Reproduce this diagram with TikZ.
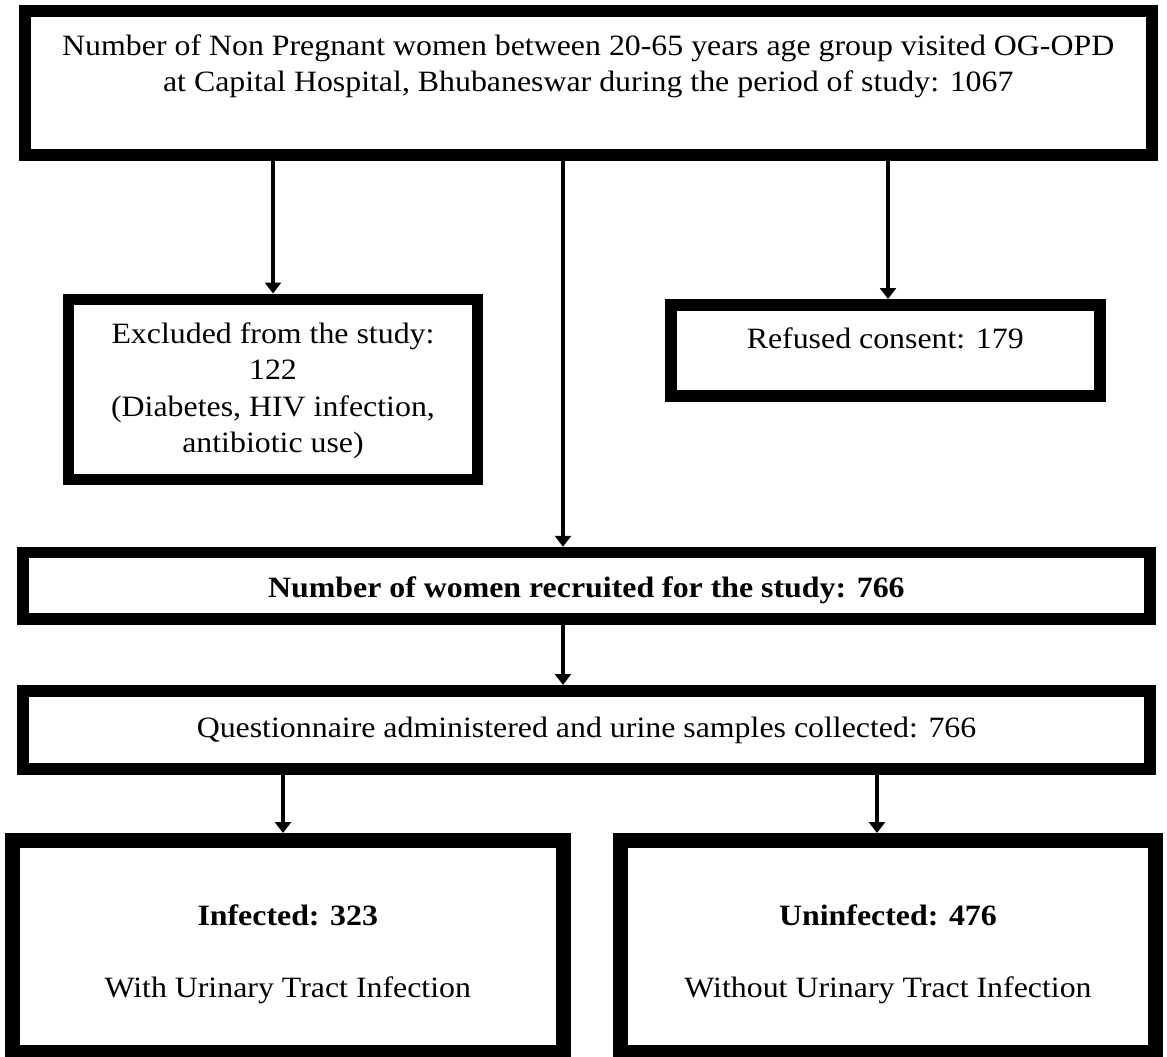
\documentclass[tikz,border=0pt]{standalone}
\usepackage{fontspec}
\setmainfont[FakeStretch=1.08]{Liberation Serif}
\usetikzlibrary{arrows.meta}
\tikzset{
  flowbox/.style={draw=black, fill=white, inner sep=0pt, outer sep=auto, rectangle},
  flowarrow/.style={draw=black, line width=3.5pt, -{Triangle[width=16pt,length=11pt]}}
}
% box content: width, height, top skip, text
\newcommand\boxcontent[4]{\parbox[c][#2][t]{#1}{\centering\vspace*{#3}\strut #4}}
\begin{document}
\begin{tikzpicture}[x=1pt,y=-1pt,font=\fontsize{29.5}{36.5}\selectfont]
\useasboundingbox (0,0) rectangle (1167,1057);

\node[flowbox, line width=12pt, minimum width=1126.5pt, minimum height=143.5pt] (top) at (588.25,82.75)
  {\boxcontent{1126.5pt}{143.5pt}{18.45pt}{Number of Non Pregnant women between 20-65 years age group visited OG-OPD\\at Capital Hospital, Bhubaneswar during the period of study: 1067}};

\node[flowbox, line width=11pt, minimum width=409pt, minimum height=180pt] (exc) at (273,389)
  {\boxcontent{409pt}{180pt}{18.45pt}{Excluded from the study:\\122\\(Diabetes, HIV infection,\\antibiotic use)}};

\node[flowbox, line width=12pt, minimum width=429.5pt, minimum height=90.5pt] (ref) at (885.25,350.25)
  {\boxcontent{429.5pt}{90.5pt}{17.45pt}{Refused consent: 179}};

\node[flowbox, line width=11.5pt, minimum width=1127.25pt, minimum height=66.5pt] (rec) at (586.4,585.75)
  {\boxcontent{1127.25pt}{66.5pt}{18.95pt}{\bfseries Number of women recruited for the study: 766}};

\node[flowbox, line width=12pt, minimum width=1127pt, minimum height=77.5pt] (que) at (586.5,729.75)
  {\boxcontent{1127pt}{77.5pt}{20.45pt}{Questionnaire administered and urine samples collected: 766}};

\node[flowbox, line width=15pt, minimum width=550.5pt, minimum height=212pt] (inf) at (287.75,946.5)
  {\boxcontent{550.5pt}{212pt}{58.95pt}{\textbf{Infected: 323}\\[35.5pt]With Urinary Tract Infection}};

\node[flowbox, line width=15pt, minimum width=535pt, minimum height=212pt] (uninf) at (888,946.5)
  {\boxcontent{535pt}{212pt}{58.95pt}{\textbf{Uninfected: 476}\\[35.5pt]Without Urinary Tract Infection}};

\coordinate (ax1) at (273,0);
\coordinate (ax2) at (563,0);
\coordinate (ax3) at (888,0);
\coordinate (ax4) at (283,0);
\coordinate (ax5) at (877,0);

\draw[flowarrow] (top.south -| ax1) -- (exc.north -| ax1);
\draw[flowarrow] (top.south -| ax2) -- (rec.north -| ax2);
\draw[flowarrow] (top.south -| ax3) -- (ref.north -| ax3);
\draw[flowarrow] (rec.south -| ax2) -- (que.north -| ax2);
\draw[flowarrow] (que.south -| ax4) -- (inf.north -| ax4);
\draw[flowarrow] (que.south -| ax5) -- (uninf.north -| ax5);
\end{tikzpicture}
\end{document}
